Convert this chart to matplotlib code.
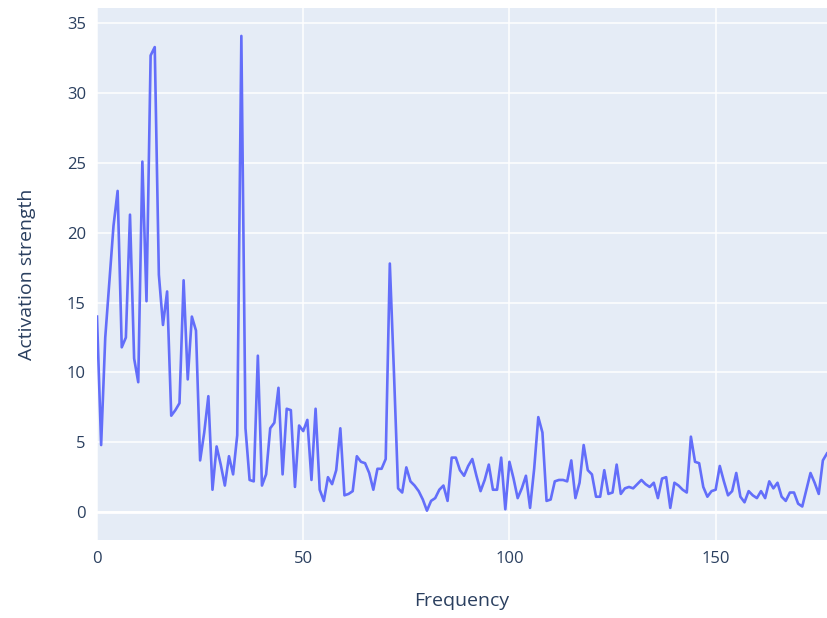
import matplotlib.pyplot as plt
import numpy as np

# activation strength per frequency bin (0..177)
strength = [
    14.0, 4.8, 12.5, 16.5, 20.5, 23.0, 11.8, 12.5, 21.3, 11.0,
    9.3, 25.1, 15.1, 32.7, 33.3, 17.0, 13.4, 15.8, 6.9, 7.3,
    7.8, 16.6, 9.5, 14.0, 13.0, 3.7, 5.7, 8.3, 1.6, 4.7,
    3.4, 1.9, 4.0, 2.7, 5.5, 34.1, 6.0, 2.3, 2.2, 11.2,
    1.9, 2.7, 6.0, 6.4, 8.9, 2.7, 7.4, 7.3, 1.8, 6.2,
    5.8, 6.6, 2.3, 7.4, 1.6, 0.8, 2.5, 2.0, 3.0, 6.0,
    1.2, 1.3, 1.5, 4.0, 3.6, 3.5, 2.8, 1.6, 3.1, 3.1,
    3.8, 17.8, 10.0, 1.7, 1.4, 3.2, 2.2, 1.9, 1.5, 0.9,
    0.1, 0.8, 1.0, 1.6, 1.9, 0.8, 3.9, 3.9, 3.0, 2.6,
    3.3, 3.8, 2.6, 1.5, 2.3, 3.4, 1.6, 1.6, 3.9, 0.2,
    3.6, 2.4, 1.0, 1.7, 2.6, 0.3, 3.1, 6.8, 5.7, 0.8,
    0.9, 2.2, 2.3, 2.3, 2.2, 3.7, 1.0, 2.1, 4.8, 3.0,
    2.7, 1.1, 1.1, 3.0, 1.3, 1.4, 3.4, 1.3, 1.7, 1.8,
    1.7, 2.0, 2.3, 2.0, 1.8, 2.1, 1.0, 2.4, 2.5, 0.3,
    2.1, 1.9, 1.6, 1.4, 5.4, 3.6, 3.5, 1.8, 1.1, 1.5,
    1.6, 3.3, 2.2, 1.2, 1.5, 2.8, 1.1, 0.7, 1.5, 1.2,
    1.0, 1.5, 1.0, 2.2, 1.7, 2.1, 1.1, 0.8, 1.4, 1.4,
    0.6, 0.4, 1.6, 2.8, 2.1, 1.3, 3.7, 4.2,
]
freq = np.arange(len(strength))

plt.rcParams['font.family'] = ['Open Sans', 'DejaVu Sans']
text_color = '#2a3f5f'

fig = plt.figure(figsize=(8.27, 6.18), dpi=100)
ax = fig.add_axes([97 / 827, 78 / 618, 730 / 827, 532 / 618])
ax.set_facecolor('#E5ECF6')

ax.plot(freq, strength, color='#636efa', lw=1.9, solid_joinstyle='round', zorder=3)

ax.set_xlim(0, freq[-1])
ax.set_ylim(-2.0, 36.1)
ax.set_xticks([0, 50, 100, 150])
ax.set_yticks(np.arange(0, 36, 5))
ax.grid(True, color='white', lw=1.1)
ax.axhline(0, color='white', lw=2, zorder=1)
ax.set_axisbelow(True)
for s in ax.spines.values():
    s.set_visible(False)
ax.tick_params(length=0, labelsize=12, colors=text_color, pad=8)

ax.set_xlabel('Frequency', fontsize=14, color=text_color, labelpad=18)
ax.set_ylabel('Activation strength', fontsize=14, color=text_color, labelpad=22)

fig.savefig('out.png')
